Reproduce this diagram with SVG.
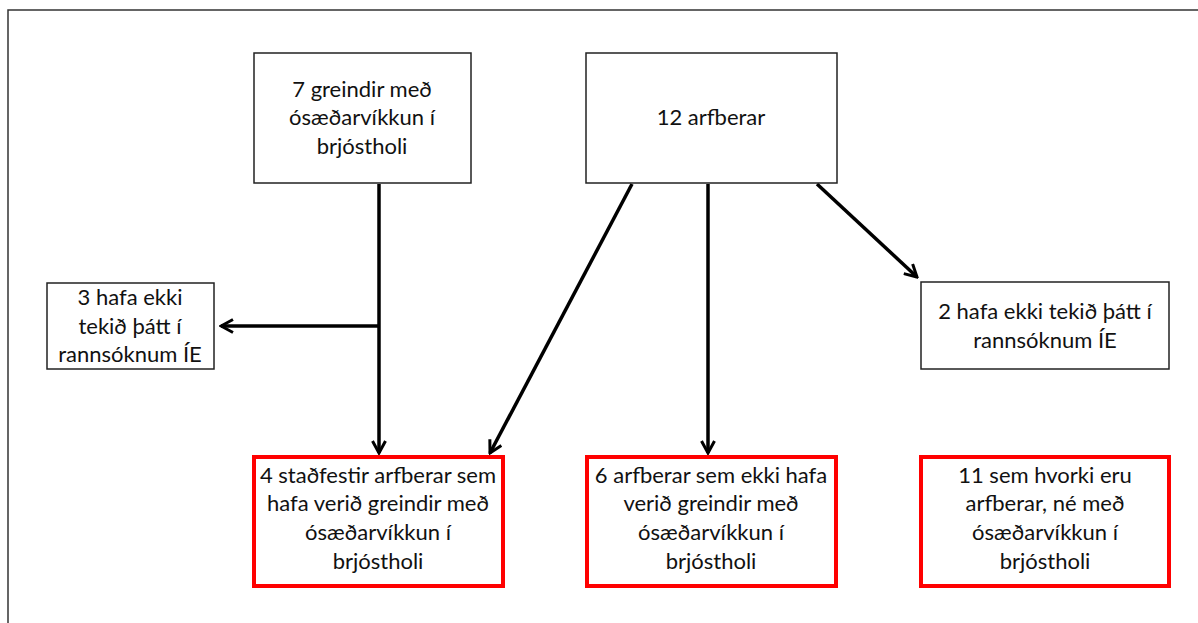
<svg xmlns="http://www.w3.org/2000/svg" width="1198" height="623" viewBox="0 0 1198 623">
<style>
.frame{fill:none;stroke:#333;stroke-width:1.5}
.box{fill:#fff;stroke:#222;stroke-width:1.5}
.red{fill:#fff;stroke:#f00;stroke-width:4}
.t{font-family:Lato,"Open Sans",sans-serif;font-size:22px;fill:#111;text-anchor:middle}
.c{fill:none;stroke:#000;stroke-width:3.5}
</style>
<defs>
<marker id="ah" viewBox="0 0 16 16" refX="14" refY="8" markerWidth="16" markerHeight="16" markerUnits="userSpaceOnUse" orient="auto">
<path d="M2,1.5 L14,8 L2,14.5" fill="none" stroke="#000" stroke-width="3" stroke-linejoin="miter"/>
</marker>
</defs>
<rect width="1198" height="623" fill="#fff"/>
<path class="frame" d="M8,623 V10 H1198"/>
<g id="connectors">
<path class="c" d="M379,184 V453" marker-end="url(#ah)"/>
<path class="c" d="M379,326 H221" marker-end="url(#ah)"/>
<path class="c" d="M632,184 L490,453" marker-end="url(#ah)"/>
<path class="c" d="M708,184 V453" marker-end="url(#ah)"/>
<path class="c" d="M817,184 L917,277" marker-end="url(#ah)"/>
</g>
<g id="n7greindir">
<rect class="box" x="254" y="53" width="217" height="130"/>
<text class="t" x="362" y="97">7 greindir með</text>
<text class="t" x="362" y="125">ósæðarvíkkun í</text>
<text class="t" x="362" y="154">brjóstholi</text>
</g>
<g id="n12arfberar">
<rect class="box" x="586" y="53" width="251" height="130"/>
<text class="t" x="711" y="125">12 arfberar</text>
</g>
<g id="n3hafa">
<rect class="box" x="47" y="283" width="167" height="86"/>
<text class="t" x="130" y="305">3 hafa ekki</text>
<text class="t" x="130" y="334">tekið þátt í</text>
<text class="t" x="130" y="362">rannsóknum ÍE</text>
</g>
<g id="n2hafa">
<rect class="box" x="921" y="282" width="248" height="87"/>
<text class="t" x="1045" y="319">2 hafa ekki tekið þátt í</text>
<text class="t" x="1045" y="348">rannsóknum ÍE</text>
</g>
<g id="n4stadfestir">
<rect class="red" x="254" y="457" width="249" height="129"/>
<text class="t" x="378" y="483">4 staðfestir arfberar sem</text>
<text class="t" x="378" y="511">hafa verið greindir með</text>
<text class="t" x="378" y="540">ósæðarvíkkun í</text>
<text class="t" x="378" y="569">brjóstholi</text>
</g>
<g id="n6arfberar">
<rect class="red" x="587" y="457" width="249" height="129"/>
<text class="t" x="711" y="483">6 arfberar sem ekki hafa</text>
<text class="t" x="711" y="511">verið greindir með</text>
<text class="t" x="711" y="540">ósæðarvíkkun í</text>
<text class="t" x="711" y="569">brjóstholi</text>
</g>
<g id="n11sem">
<rect class="red" x="921" y="457" width="248" height="129"/>
<text class="t" x="1045" y="483">11 sem hvorki eru</text>
<text class="t" x="1045" y="511">arfberar, né með</text>
<text class="t" x="1045" y="540">ósæðarvíkkun í</text>
<text class="t" x="1045" y="569">brjóstholi</text>
</g>
</svg>
